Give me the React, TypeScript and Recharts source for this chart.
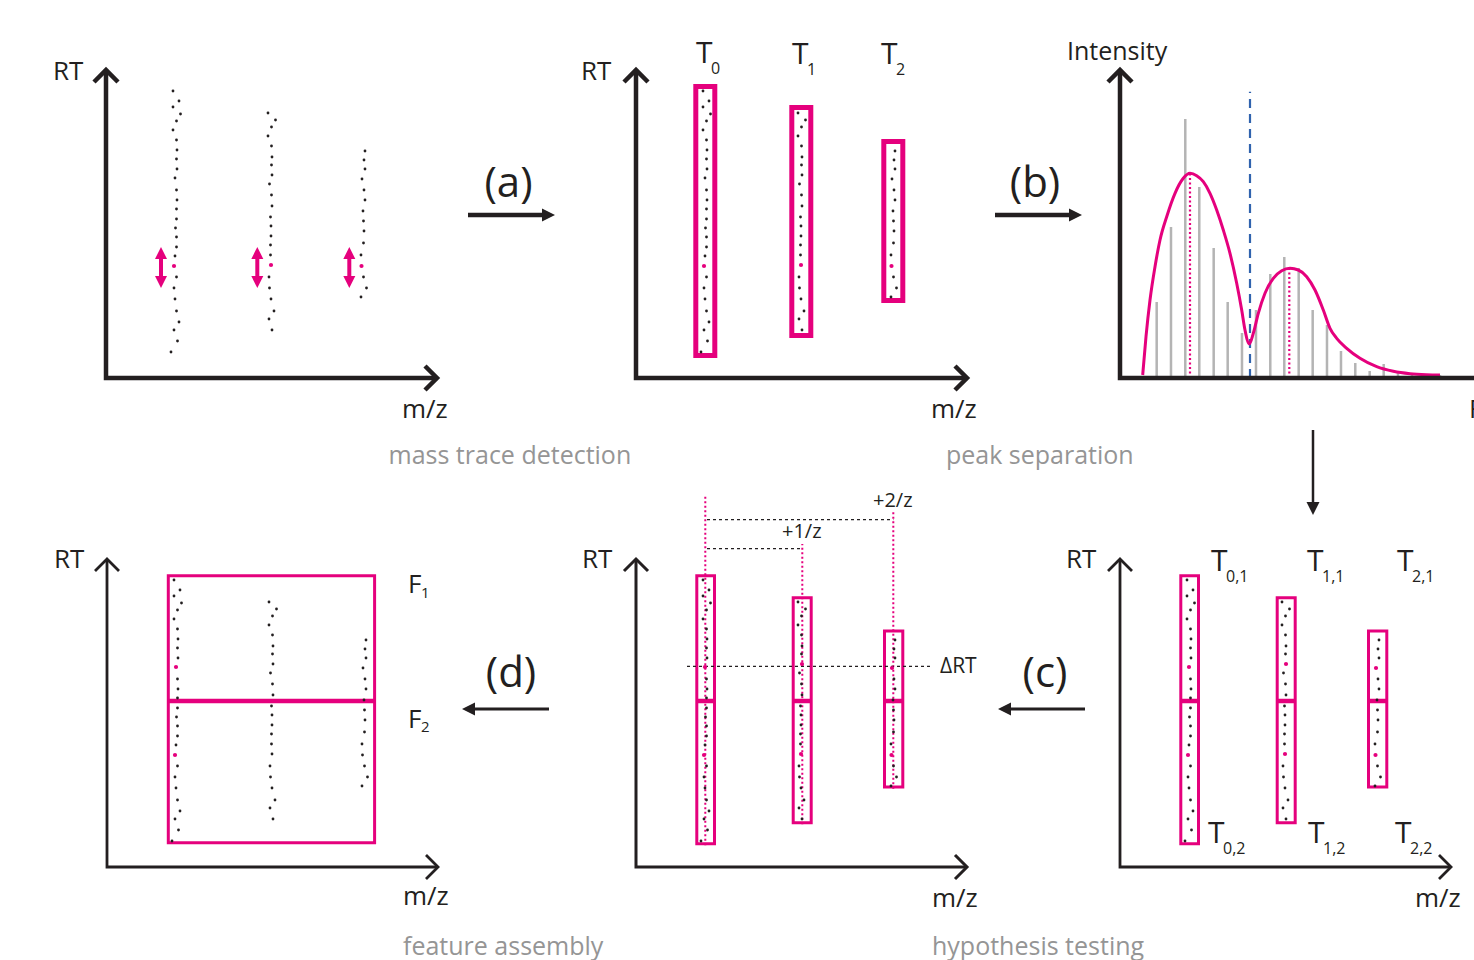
import React from 'react';
import { ComposedChart, Scatter, Line, Bar, XAxis, YAxis, ReferenceLine, ReferenceArea } from 'recharts';

const INK = '#231f20';
const MAGENTA = '#e5007d';
const CAPTION = '#959595';
const BAR_GREY = '#b4b4b4';
const BLUE = '#3063ae';
const FONT = "'Open Sans', 'Noto Sans', sans-serif";

// ---- Mass traces: m/z and RT (arbitrary units measured from the axes' origin)
const T0_MZ = [67, 73, 67, 74.5, 70.5, 67, 70.5, 71, 70.5, 71, 69, 70.5, 71, 70.5, 70.5, 69.5, 70.5, 70.5, 69, 68, 70.5, 68, 69, 70.5, 73, 68, 71.5, 65];
const T0_RT = [287, 277, 271, 264, 257, 248, 238, 228, 219, 209, 200, 188, 178, 169, 159, 150, 141, 131, 122, 112, 101, 90, 79, 67, 56, 48, 37, 26];
const T1_MZ = [162, 169.5, 165.5, 162, 165.5, 166, 165.5, 166, 163.5, 165.5, 166, 164.5, 165, 165, 164.5, 164.5, 165, 163, 163.5, 165, 168, 163, 166];
const T1_RT = [265, 258, 251, 242, 232, 221, 213, 203, 194, 183, 172, 161, 152, 142, 133, 123, 113, 101, 90, 79, 67, 59, 48];
const T2_MZ = [259, 258, 259, 256, 258, 259, 257, 257.5, 258, 257.5, 255, 255.5, 257.5, 260.5, 255];
const T2_RT = [227, 218, 209, 199, 188, 178, 167, 157, 147, 135, 123, 112, 101, 90, 81];
const TRACES: [number[], number[]][] = [[T0_MZ, T0_RT], [T1_MZ, T1_RT], [T2_MZ, T2_RT]];

// apex indices within each trace
const APEX_1 = [19, 16, 11];
const APEX_2 = [10, 7, 3];

// double arrows (panel 1)
const ARROW_MZ = [55, 151.3, 243.3];
const ARROW_RT = [90, 131];

// trace boxes (panel 2)
const BOX_MZ = [[59.8, 78.8], [155.8, 174.8], [247.8, 266.8]];
const BOX_RT = [[22.5, 291.5], [42.5, 270.5], [77.5, 236.5]];
// sub-trace boxes (panels 4,5)
const SUB_MZ = [[60.8, 78.5], [157.2, 175.2], [248.5, 266.8]];
const SUB_RT = [[23.2, 291.2], [44.2, 269.2], [79.9, 235.9]];
const SPLIT_RT = 166;
// feature box (panel 6)
const FEAT_MZ = [61.3, 267.6];
const FEAT_RT = [24.2, 291.2];

// hypothesis testing (panel 5)
const ISO_MZ = [69.3, 166.3, 257.3];
const ISO_TOP = [371.7, 323, 355];
const ISO_BOTTOM = [21.7, 42.7, 78.3];
const DELTA_RT = 200.7;
const SHIFT_RT = [318.4, 347.4];

// spectrum (panel 3)
const SPEC_RT = [36.7, 51, 65.3, 79.3, 93.7, 107.7, 122, 136, 150.3, 164.3, 178.7, 192.7, 207, 221, 235.3, 249.7, 263.7, 278, 292, 306.3, 320];
const SPEC_INT = [76, 151, 259, 191, 130, 76, 45, 68, 104, 121, 110, 68, 53, 27, 15, 7, 14, 6, 5, 4, 3];
const FIT_RT = [22.7, 26, 30, 35, 40, 46.7, 55, 63.3, 70, 76.7, 83.3, 90, 96.7, 103.3, 110, 116.7, 121.7, 125, 129.3, 133.3, 138.3, 145, 153.3, 161.7, 170, 178.3, 186.7, 195, 203.3, 210, 216.7, 226.7, 240, 256.7, 273.3, 290, 306.7, 320];
const FIT_INT = [3, 41.3, 78, 111.3, 138, 161.3, 184.7, 199.7, 204.7, 202.3, 196.3, 184.7, 168, 148, 124.7, 94.7, 68, 48, 34, 44.7, 64.7, 84.7, 99.7, 107.3, 109.7, 108, 101.3, 88, 68, 49.7, 39.7, 29.7, 19.7, 11.3, 6.7, 4.3, 3.3, 3];
const APEX_RT = [70, 169.3];
const APEX_INT = [204.7, 109.7];
const SPLIT_POINT = 130;
const SPLIT_TOP = 286.3;

const X_LEN = 331;
const Y_LEN = 308;

function splitDots(apexLists: number[][], cols: number[]) {
  const black: { x: number; y: number }[] = [];
  const pink: { x: number; y: number }[] = [];
  TRACES.forEach(([mz, rt], t) =>
    mz.forEach((m, i) => {
      const isApex = cols.includes(t) && apexLists.some((a) => a[t] === i);
      (isApex ? pink : black).push({ x: m, y: rt[i] });
    })
  );
  return { black, pink };
}

const blackDot = (p: any) => <circle cx={p.cx} cy={p.cy} r={1.4} fill={INK} />;
const pinkDot = (p: any) => <circle cx={p.cx} cy={p.cy} r={2.1} fill={MAGENTA} />;
const headUp = (p: any) => (
  <polygon points={`${p.cx},${p.cy} ${p.cx - 6},${p.cy + 12} ${p.cx + 6},${p.cy + 12}`} fill={MAGENTA} />
);
const headDown = (p: any) => (
  <polygon points={`${p.cx},${p.cy} ${p.cx - 6},${p.cy - 12} ${p.cx + 6},${p.cy - 12}`} fill={MAGENTA} />
);
const barShape = (p: any) => {
  if (p.height == null || p.width == null) return <g />;
  const cx = p.x + p.width / 2;
  const top = Math.min(p.y, p.y + p.height);
  const h = Math.abs(p.height);
  return <rect x={cx - 1.25} y={top} width={2.5} height={h} fill={BAR_GREY} />;
};

function dotEls(d: { black: any[]; pink: any[] }, k: string) {
  return [
    <Scatter key={k + 'b'} data={d.black} shape={blackDot} isAnimationActive={false} />,
    <Scatter key={k + 'p'} data={d.pink} shape={pinkDot} isAnimationActive={false} />,
  ];
}

function lineProps(sw: number) {
  return {
    dataKey: 'y',
    stroke: INK,
    strokeWidth: sw,
    dot: false,
    activeDot: false,
    isAnimationActive: false,
    strokeLinejoin: 'miter' as const,
    legendType: 'none' as const,
  };
}

function axes(sw: number, k: string, xLen = X_LEN) {
  return [
    <Line key={k + 'ax'} data={[{ x: 0, y: Y_LEN }, { x: 0, y: 0 }, { x: xLen, y: 0 }]} {...lineProps(sw)} />,
    <Line key={k + 'hx'} data={[{ x: xLen - 12, y: 12 }, { x: xLen, y: 0 }, { x: xLen - 12, y: -12 }]} {...lineProps(sw)} />,
    <Line key={k + 'hy'} data={[{ x: -12, y: Y_LEN - 12 }, { x: 0, y: Y_LEN }, { x: 12, y: Y_LEN - 12 }]} {...lineProps(sw)} />,
  ];
}

function Frame({ ox, oy, width = 410, xMax = 350, data, children }: any) {
  return (
    <div style={{ position: 'absolute', left: ox - 60, top: oy - 390 }}>
      <ComposedChart width={width} height={440} data={data} margin={{ top: 0, right: 0, bottom: 0, left: 0 }}>
        <XAxis type="number" dataKey="x" domain={[-60, xMax]} hide allowDataOverflow />
        <YAxis type="number" dataKey="y" domain={[-50, 390]} hide allowDataOverflow />
        {children}
      </ComposedChart>
    </div>
  );
}

function boxes(mzs: number[][], rts: number[][], sw: number, k: string, split?: number) {
  const els: any[] = [];
  mzs.forEach((m, i) => {
    els.push(
      <ReferenceArea key={k + 'r' + i} x1={m[0]} x2={m[1]} y1={rts[i][0]} y2={rts[i][1]} fill="none" stroke={MAGENTA} strokeWidth={sw} ifOverflow="visible" />
    );
    if (split !== undefined) {
      els.push(
        <ReferenceLine key={k + 's' + i} segment={[{ x: m[0], y: split }, { x: m[1], y: split }]} stroke={MAGENTA} strokeWidth={4.5} ifOverflow="visible" />
      );
    }
  });
  return els;
}

const T = (x: number, y: number, s: string, size: number, fill = INK, anchor = 'start') => (
  <text x={x} y={y} fontSize={size} fill={fill} textAnchor={anchor as any} fontFamily={FONT}>
    {s}
  </text>
);

function Arrow({ x1, y1, x2, y2, w }: any) {
  const dx = x2 - x1;
  const dy = y2 - y1;
  const len = Math.hypot(dx, dy);
  const ux = dx / len;
  const uy = dy / len;
  const hl = 13;
  const hw = 6.5;
  const bx = x2 - ux * hl;
  const by = y2 - uy * hl;
  return (
    <g>
      <line x1={x1} y1={y1} x2={bx + ux} y2={by + uy} stroke={INK} strokeWidth={w} />
      <polygon points={`${x2},${y2} ${bx - uy * hw},${by + ux * hw} ${bx + uy * hw},${by - ux * hw}`} fill={INK} />
    </g>
  );
}

export default function App() {
  const p12 = splitDots([APEX_1], [0, 1, 2]);
  const p45 = splitDots([APEX_1, APEX_2], [0, 1, 2]);
  const p6 = splitDots([APEX_1, APEX_2], [0]);
  const bars = SPEC_RT.map((x, i) => ({ x, y: SPEC_INT[i] }));
  const fit = FIT_RT.map((x, i) => ({ x, y: FIT_INT[i] }));

  return (
    <div style={{ position: 'fixed', left: 0, top: 0, width: 1474, height: 960, overflow: 'hidden', background: '#fff' }}>
      {/* Panel 1: mass trace detection input */}
      <Frame ox={105.7} oy={378}>
        {[
          ...ARROW_MZ.map((m, i) => (
            <ReferenceLine key={'as' + i} segment={[{ x: m, y: ARROW_RT[0] + 9 }, { x: m, y: ARROW_RT[1] - 9 }]} stroke={MAGENTA} strokeWidth={4} ifOverflow="visible" />
          )),
          <Scatter key="au" data={ARROW_MZ.map((m) => ({ x: m, y: ARROW_RT[1] }))} shape={headUp} isAnimationActive={false} />,
          <Scatter key="ad" data={ARROW_MZ.map((m) => ({ x: m, y: ARROW_RT[0] }))} shape={headDown} isAnimationActive={false} />,
          ...dotEls(p12, 'p1'),
          ...axes(4.5, 'p1'),
        ]}
      </Frame>

      {/* Panel 2: detected traces */}
      <Frame ox={635.7} oy={378}>
        {[...boxes(BOX_MZ, BOX_RT, 5, 'p2'), ...dotEls(p12, 'p2'), ...axes(4.5, 'p2')]}
      </Frame>

      {/* Panel 3: spectrum / peak separation */}
      <Frame ox={1120} oy={378} width={414} xMax={354} data={bars}>
        {[
          <Bar key="bars" dataKey="y" barSize={2.5} fill={BAR_GREY} shape={barShape} isAnimationActive={false} />,
          ...APEX_RT.map((x, i) => (
            <ReferenceLine key={'ap' + i} segment={[{ x, y: 0 }, { x, y: APEX_INT[i] }]} stroke={MAGENTA} strokeWidth={2.2} strokeDasharray="2 2.5" ifOverflow="visible" />
          )),
          <ReferenceLine key="split" segment={[{ x: SPLIT_POINT, y: 0 }, { x: SPLIT_POINT, y: SPLIT_TOP }]} stroke={BLUE} strokeWidth={2.2} strokeDasharray="9 6" ifOverflow="visible" />,
          <Line key="fit" data={fit} dataKey="y" type="monotone" stroke={MAGENTA} strokeWidth={3} dot={false} activeDot={false} isAnimationActive={false} />,
          ...axes(4.5, 'p3', 400),
        ]}
      </Frame>

      {/* Panel 4: hypothesis sub-traces */}
      <Frame ox={1120} oy={866.7}>
        {[...boxes(SUB_MZ, SUB_RT, 3, 'p4', SPLIT_RT), ...dotEls(p45, 'p4'), ...axes(2.8, 'p4')]}
      </Frame>

      {/* Panel 5: hypothesis testing */}
      <Frame ox={635.7} oy={866.7}>
        {[
          ...boxes(SUB_MZ, SUB_RT, 3, 'p5', SPLIT_RT),
          ...ISO_MZ.map((x, i) => (
            <ReferenceLine key={'iso' + i} segment={[{ x, y: ISO_BOTTOM[i] }, { x, y: ISO_TOP[i] }]} stroke={MAGENTA} strokeWidth={2} strokeDasharray="2 2.5" ifOverflow="visible" />
          )),
          <ReferenceLine key="drt" segment={[{ x: 51, y: DELTA_RT }, { x: 296, y: DELTA_RT }]} stroke={INK} strokeWidth={1.2} strokeDasharray="3 3" ifOverflow="visible" />,
          <ReferenceLine key="sh1" segment={[{ x: 71, y: SHIFT_RT[0] }, { x: ISO_MZ[1], y: SHIFT_RT[0] }]} stroke={INK} strokeWidth={1.2} strokeDasharray="3 3" ifOverflow="visible" />,
          <ReferenceLine key="sh2" segment={[{ x: 71, y: SHIFT_RT[1] }, { x: ISO_MZ[2], y: SHIFT_RT[1] }]} stroke={INK} strokeWidth={1.2} strokeDasharray="3 3" ifOverflow="visible" />,
          ...dotEls(p45, 'p5'),
          ...axes(3, 'p5'),
        ]}
      </Frame>

      {/* Panel 6: feature assembly */}
      <Frame ox={106.7} oy={866.7}>
        {[
          <ReferenceArea key="fb" x1={FEAT_MZ[0]} x2={FEAT_MZ[1]} y1={FEAT_RT[0]} y2={FEAT_RT[1]} fill="none" stroke={MAGENTA} strokeWidth={3} ifOverflow="visible" />,
          <ReferenceLine key="fs" segment={[{ x: FEAT_MZ[0], y: SPLIT_RT }, { x: FEAT_MZ[1], y: SPLIT_RT }]} stroke={MAGENTA} strokeWidth={4.5} ifOverflow="visible" />,
          ...dotEls(p6, 'p6'),
          ...axes(2.8, 'p6'),
        ]}
      </Frame>

      {/* text and flow arrows */}
      <svg width={1474} height={960} style={{ position: 'absolute', left: 0, top: 0, pointerEvents: 'none' }}>
        {/* axis labels */}
        {T(53, 80, 'RT', 26)}
        {T(402, 418, 'm/z', 26)}
        {T(581, 80, 'RT', 26)}
        {T(931, 418, 'm/z', 26)}
        {T(1067, 60, 'Intensity', 25)}
        {T(1469, 418, 'RT', 26)}
        {T(1066, 568, 'RT', 26)}
        {T(1415, 907, 'm/z', 26)}
        {T(582, 568, 'RT', 26)}
        {T(932, 907, 'm/z', 26)}
        {T(54, 568, 'RT', 26)}
        {T(403, 905, 'm/z', 26)}

        {/* trace labels */}
        {T(696, 63, 'T', 30)}
        {T(711, 74, '0', 16)}
        {T(792, 64, 'T', 30)}
        {T(807, 75, '1', 16)}
        {T(881, 64, 'T', 30)}
        {T(896, 75, '2', 16)}

        {T(1211, 571, 'T', 30)}
        {T(1226, 582, '0,1', 16)}
        {T(1307, 571, 'T', 30)}
        {T(1322, 582, '1,1', 16)}
        {T(1397, 571, 'T', 30)}
        {T(1412, 582, '2,1', 16)}
        {T(1208, 843, 'T', 30)}
        {T(1223, 854, '0,2', 16)}
        {T(1308, 843, 'T', 30)}
        {T(1323, 854, '1,2', 16)}
        {T(1395, 843, 'T', 30)}
        {T(1410, 854, '2,2', 16)}

        {T(408, 593, 'F', 26)}
        {T(421, 598, '1', 15)}
        {T(408, 728, 'F', 26)}
        {T(421, 732, '2', 15)}

        {T(873, 507, '+2/z', 20)}
        {T(782, 538, '+1/z', 20)}
        {T(940, 673, 'ΔRT', 21)}

        {/* step labels */}
        {T(508.5, 197, '(a)', 42, INK, 'middle')}
        {T(1035, 197, '(b)', 42, INK, 'middle')}
        {T(1045, 687, '(c)', 42, INK, 'middle')}
        {T(511, 687, '(d)', 42, INK, 'middle')}

        {/* captions */}
        {T(388.5, 464, 'mass trace detection', 25, CAPTION)}
        {T(946, 464, 'peak separation', 25, CAPTION)}
        {T(403, 955, 'feature assembly', 25, CAPTION)}
        {T(932, 955, 'hypothesis testing', 25, CAPTION)}

        <Arrow x1={468} y1={215} x2={555} y2={215} w={4.5} />
        <Arrow x1={995} y1={215} x2={1082} y2={215} w={4.5} />
        <Arrow x1={1313} y1={430} x2={1313} y2={515} w={2.5} />
        <Arrow x1={1085} y1={709} x2={998} y2={709} w={3} />
        <Arrow x1={549} y1={709} x2={462} y2={709} w={3} />
      </svg>
    </div>
  );
}
